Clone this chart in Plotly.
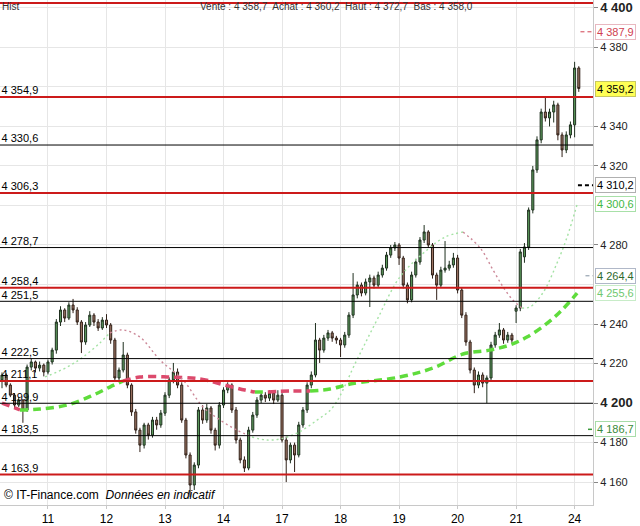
import plotly.graph_objects as go

# jours (debut de seance en indice de bougie)
days = ['11', '12', '13', '14', '17', '18', '19', '20', '21', '24']
day_start = [11, 25, 39, 53, 67, 81, 95, 109, 123, 137]

open_ = [4211.7, 4214.2, 4209.1, 4204.0, 4199.0, 4201.5, 4196.5, 4218.2, 4220.8, 4217.7,
         4219.2, 4215.7, 4220.8, 4226.8, 4241.0, 4247.1, 4243.0, 4249.6, 4247.1, 4241.0,
         4230.9, 4239.5, 4244.5, 4241.0, 4238.0, 4242.0, 4239.5, 4231.9, 4212.7, 4216.7,
         4224.3, 4209.1, 4195.5, 4186.3, 4178.7, 4188.9, 4183.8, 4191.4, 4188.9, 4194.9,
         4204.0, 4211.7, 4215.7, 4209.1, 4191.4, 4173.7, 4158.5, 4168.6, 4196.5, 4191.4,
         4197.5, 4186.3, 4178.7, 4199.0, 4206.6, 4209.1, 4196.5, 4181.3, 4171.2, 4167.1,
         4186.3, 4193.9, 4201.5, 4204.0, 4202.5, 4205.0, 4201.5, 4204.0, 4181.3, 4171.2,
         4178.7, 4173.7, 4188.9, 4196.5, 4209.1, 4214.2, 4231.9, 4226.8, 4232.9, 4235.5,
         4232.9, 4231.9, 4229.4, 4234.4, 4244.5, 4254.7, 4259.7, 4255.7, 4261.3, 4263.3,
         4259.7, 4264.8, 4268.3, 4274.9, 4278.5, 4280.0, 4273.4, 4259.7, 4252.2, 4264.8,
         4271.4, 4282.5, 4286.6, 4280.0, 4264.8, 4259.7, 4267.3, 4268.3, 4269.9, 4273.4,
         4257.2, 4244.5, 4230.9, 4216.7, 4209.1, 4214.2, 4210.1, 4212.7, 4229.4, 4234.4,
         4237.0, 4231.9, 4234.4, 4246.5, 4248.1, 4274.0, 4279.0, 4297.7, 4318.0, 4333.2,
         4347.3, 4344.3, 4347.3, 4350.9, 4335.7, 4328.1, 4335.7, 4340.8, 4369.6]
high = [4215.5, 4215.0, 4210.0, 4205.0, 4203.0, 4202.0, 4219.5, 4222.5, 4221.5, 4221.0,
        4220.0, 4222.0, 4228.0, 4242.5, 4249.0, 4248.0, 4251.0, 4252.7, 4248.5, 4242.0,
        4241.0, 4246.5, 4245.5, 4242.5, 4243.5, 4245.0, 4240.5, 4233.0, 4218.0, 4230.9,
        4225.5, 4210.0, 4197.0, 4187.5, 4190.0, 4190.0, 4193.0, 4193.0, 4196.5, 4205.5,
        4213.0, 4220.3, 4217.5, 4210.5, 4192.5, 4175.0, 4170.0, 4198.0, 4199.0, 4199.5,
        4198.5, 4187.5, 4200.5, 4208.0, 4210.5, 4210.0, 4198.0, 4182.5, 4173.0, 4188.0,
        4195.5, 4203.0, 4206.0, 4205.5, 4206.5, 4206.0, 4206.5, 4205.0, 4183.0, 4180.0,
        4180.0, 4190.5, 4198.0, 4210.5, 4216.0, 4240.5, 4233.0, 4234.5, 4237.0, 4236.5,
        4234.0, 4233.0, 4236.0, 4246.0, 4265.8, 4261.5, 4261.0, 4263.0, 4265.0, 4264.5,
        4266.5, 4270.0, 4276.5, 4280.0, 4281.5, 4281.0, 4274.5, 4261.0, 4266.5, 4273.0,
        4284.0, 4290.1, 4287.5, 4281.0, 4266.0, 4269.0, 4282.0, 4272.0, 4276.0, 4275.0,
        4258.5, 4246.0, 4232.0, 4218.0, 4216.0, 4215.5, 4214.0, 4231.0, 4236.0, 4240.5,
        4238.0, 4236.0, 4235.5, 4249.5, 4278.0, 4281.0, 4299.0, 4320.0, 4335.0, 4349.0,
        4354.9, 4349.0, 4353.0, 4352.0, 4337.0, 4337.5, 4342.5, 4372.7, 4370.5]
low = [4207.5, 4208.0, 4203.0, 4197.5, 4198.0, 4190.0, 4195.5, 4216.5, 4215.5, 4216.0,
       4213.5, 4214.5, 4219.5, 4225.0, 4239.0, 4241.0, 4242.0, 4245.5, 4239.5, 4225.3,
       4229.5, 4238.5, 4239.0, 4236.5, 4237.0, 4238.0, 4230.0, 4211.0, 4211.0, 4215.5,
       4207.5, 4193.5, 4184.5, 4175.2, 4177.0, 4181.5, 4182.5, 4186.5, 4187.5, 4193.5,
       4202.5, 4210.0, 4207.5, 4190.0, 4172.0, 4152.4, 4156.0, 4167.0, 4189.5, 4190.0,
       4184.5, 4176.0, 4177.0, 4197.5, 4205.0, 4195.0, 4179.5, 4169.5, 4165.1, 4166.0,
       4185.0, 4192.5, 4200.0, 4200.5, 4201.0, 4199.5, 4200.5, 4180.0, 4160.0, 4169.5,
       4165.1, 4172.5, 4187.5, 4195.0, 4207.5, 4213.0, 4220.3, 4225.5, 4231.5, 4231.0,
       4230.0, 4223.3, 4228.0, 4233.0, 4243.0, 4253.0, 4254.0, 4254.5, 4248.6, 4258.0,
       4258.5, 4263.5, 4267.0, 4273.5, 4277.0, 4269.9, 4258.0, 4250.5, 4251.0, 4263.5,
       4270.0, 4281.0, 4278.5, 4263.0, 4252.2, 4258.5, 4266.0, 4267.0, 4268.5, 4255.5,
       4243.0, 4229.0, 4215.0, 4205.0, 4207.5, 4208.0, 4200.0, 4211.5, 4228.0, 4233.0,
       4230.0, 4230.5, 4230.5, 4240.5, 4246.5, 4271.0, 4277.5, 4296.0, 4316.5, 4331.5,
       4342.5, 4340.0, 4342.0, 4333.0, 4324.5, 4326.5, 4334.0, 4334.5, 4357.5]
close = [4214.2, 4209.1, 4204.0, 4199.0, 4201.5, 4196.5, 4218.2, 4220.8, 4217.7, 4219.2,
         4215.7, 4220.8, 4226.8, 4241.0, 4247.1, 4243.0, 4249.6, 4247.1, 4241.0, 4230.9,
         4239.5, 4244.5, 4241.0, 4238.0, 4242.0, 4239.5, 4231.9, 4212.7, 4216.7, 4224.3,
         4209.1, 4195.5, 4186.3, 4178.7, 4188.9, 4183.8, 4191.4, 4188.9, 4194.9, 4204.0,
         4211.7, 4215.7, 4209.1, 4191.4, 4173.7, 4158.5, 4168.6, 4196.5, 4191.4, 4197.5,
         4186.3, 4178.7, 4199.0, 4206.6, 4209.1, 4196.5, 4181.3, 4171.2, 4167.1, 4186.3,
         4193.9, 4201.5, 4204.0, 4202.5, 4205.0, 4201.5, 4204.0, 4181.3, 4171.2, 4178.7,
         4173.7, 4188.9, 4196.5, 4209.1, 4214.2, 4231.9, 4226.8, 4232.9, 4235.5, 4232.9,
         4231.9, 4229.4, 4234.4, 4244.5, 4254.7, 4259.7, 4255.7, 4261.3, 4263.3, 4259.7,
         4264.8, 4268.3, 4274.9, 4278.5, 4280.0, 4273.4, 4259.7, 4252.2, 4264.8, 4271.4,
         4282.5, 4286.6, 4280.0, 4264.8, 4259.7, 4267.3, 4268.3, 4269.9, 4273.4, 4257.2,
         4244.5, 4230.9, 4216.7, 4209.1, 4214.2, 4210.1, 4212.7, 4229.4, 4234.4, 4237.0,
         4231.9, 4234.4, 4231.9, 4248.1, 4276.5, 4279.0, 4297.7, 4318.0, 4333.2, 4347.3,
         4344.3, 4347.3, 4350.9, 4335.7, 4328.1, 4335.7, 4340.8, 4369.6, 4359.2]

# niveaux horizontaux
red_levels = [4402.5, 4354.9, 4306.3, 4258.4, 4211.1, 4163.9]
black_levels = [4330.6, 4278.7, 4251.5, 4222.5, 4199.9, 4183.5]

# moyenne mobile courte
fast_x = [10.3, 15.6, 19.4, 23.4, 25.8, 28.9, 33.0, 37.8, 43.3, 48.1, 52.2, 56.2,
          59.8, 63.4, 66.5, 70.6, 75.4, 79.2, 84.9, 89.7, 95.2, 101.7, 106.0, 110.3,
          114.4, 117.5, 119.9, 122.2, 124.4, 126.3, 129.4, 132.8, 135.2, 137.6]
fast_y = [4213.2, 4218.2, 4223.3, 4230.4, 4235.5, 4237.0, 4233.4, 4221.8, 4211.7, 4198.0,
          4191.4, 4186.3, 4182.8, 4181.3, 4181.8, 4184.8, 4191.4, 4198.0, 4221.8, 4242.0,
          4263.8, 4277.5, 4284.0, 4286.6, 4278.5, 4267.3, 4258.7, 4252.2, 4248.1, 4248.6,
          4255.7, 4270.9, 4284.0, 4300.6]
fast_breaks = [0, 4, 12, 23, 28, 33]
fast_trend = ['up', 'down', 'up', 'down', 'up']

# moyenne mobile longue
slow_x = [0, 4.3, 9.1, 15.6, 21.8, 25.8, 28.9, 33.0, 39.5, 47.4, 53.3, 58.1, 60.5,
          63.6, 68.9, 73.7, 78.5, 83.3, 95.2, 103.1, 110.3, 116.7, 121.5, 125.6,
          129.9, 133.5, 137.6]
slow_y = [4200.0, 4196.5, 4197.0, 4199.0, 4204.0, 4208.1, 4211.1, 4213.2, 4213.2, 4212.2,
          4209.1, 4206.6, 4205.6, 4205.6, 4206.1, 4206.1, 4207.1, 4209.6, 4213.2, 4217.7,
          4224.8, 4226.8, 4229.4, 4233.4, 4239.5, 4246.1, 4255.6]
slow_breaks = [0, 1, 6, 12, 13, 15, 26]
slow_trend = ['down', 'up', 'down', 'up', 'down', 'up']

# etiquettes de droite
right_vals = [4387.9, 4359.2, 4310.2, 4300.6, 4264.4, 4255.6, 4186.7]
right_font = ['#d04050', '#000000', '#000000', '#44b844', '#2f6a2f', '#70c870', '#3a8a3a']
right_bg = ['#ffffff', '#ffff55', '#ffffff', '#ffffff', '#ffffff', '#ffffff', '#ffffff']
right_border = ['#e8b8c0', '#c8c860', '#b0b0b0', '#a8e0a8', '#b0b8c8', '#c8ecc8', '#a8dca8']
mark_vals = [4387.9, 4310.2, 4264.4, 4186.7]
mark_col = ['#d04050', '#000000', '#8090a0', '#3a9a3a']
mark_from = [138.4, 137.8, 139.6, 140.2]
mark_width = [1, 2, 1, 1.5]

y_ticks = [4160, 4180, 4200, 4220, 4240, 4280, 4320, 4340, 4380, 4400]


def fr(v):
    s = f'{v:,.1f}'.replace(',', ' ').replace('.', ',')
    return s


def fr_int(v):
    return f'{v:,}'.replace(',', ' ')


x = list(range(len(close)))

fig = go.Figure()

# libelles des niveaux (dessines sous les bougies)
levels = red_levels[1:] + black_levels
fig.add_trace(go.Scatter(x=[-0.1] * len(levels), y=levels, mode='text',
                         text=[fr(v) for v in levels], textposition='top right',
                         textfont=dict(size=11, color='#000000'),
                         hoverinfo='skip', showlegend=False, cliponaxis=False))

for i in range(len(slow_trend)):
    a, b = slow_breaks[i], slow_breaks[i + 1]
    fig.add_trace(go.Scatter(x=slow_x[a:b + 1], y=slow_y[a:b + 1], mode='lines',
                             line=dict(color='#5fdc3c' if slow_trend[i] == 'up' else '#dc4a6c',
                                       width=3.5, dash='8px,5px', shape='spline'),
                             hoverinfo='skip', showlegend=False))

for i in range(len(fast_trend)):
    a, b = fast_breaks[i], fast_breaks[i + 1]
    fig.add_trace(go.Scatter(x=fast_x[a:b + 1], y=fast_y[a:b + 1], mode='lines',
                             line=dict(color='#a4e2a4' if fast_trend[i] == 'up' else '#cc8898',
                                       width=1.4, dash='2px,3px', shape='spline'),
                             hoverinfo='skip', showlegend=False))

fig.add_trace(go.Candlestick(
    x=x, open=open_, high=high, low=low, close=close,
    increasing=dict(line=dict(color='#1f301f', width=1), fillcolor='#5c9a5c'),
    decreasing=dict(line=dict(color='#302018', width=1), fillcolor='#9c7463'),
    whiskerwidth=0, hoverinfo='skip', showlegend=False))

for v in black_levels:
    fig.add_shape(type='line', xref='paper', x0=0, x1=1, y0=v, y1=v,
                  line=dict(color='#000000', width=1))
for v in red_levels:
    fig.add_shape(type='line', xref='paper', x0=0, x1=1, y0=v, y1=v,
                  line=dict(color='#cc1a1a', width=2))

for v, c, x0, w in zip(mark_vals, mark_col, mark_from, mark_width):
    fig.add_shape(type='line', x0=x0, x1=141.4, y0=v, y1=v,
                  line=dict(color=c, width=w, dash='4px,3px'))

for v, fc, bg, bc in zip(right_vals, right_font, right_bg, right_border):
    fig.add_annotation(xref='paper', x=1, xanchor='left', xshift=2, y=v, yref='y',
                       text=fr(v), showarrow=False, font=dict(size=11, color=fc),
                       bgcolor=bg, bordercolor=bc, borderwidth=1, borderpad=1)

fig.add_annotation(xref='paper', yref='paper', x=0, y=0, xanchor='left', yanchor='bottom',
                   xshift=2, yshift=1, showarrow=False,
                   text='© IT-Finance.com  <i>Données en indicatif</i>',
                   font=dict(size=12, color='#000000'))
fig.add_annotation(xref='paper', yref='paper', x=0.334, y=1, xanchor='left', yanchor='top',
                   yshift=1, showarrow=False,
                   text='Vente : 4 358,7  Achat : 4 360,2  Haut : 4 372,7  Bas : 4 358,0',
                   font=dict(size=10, color='#333333'))
fig.add_annotation(xref='paper', yref='paper', x=0, y=1, xanchor='left', yanchor='top',
                   yshift=1, showarrow=False, text='Hist',
                   font=dict(size=10, color='#333333'))

tick_text = []
for t in y_ticks:
    if t in (4200, 4400):
        tick_text.append('<b><span style="font-size:13px">' + fr_int(t) + '</span></b>')
    else:
        tick_text.append(fr_int(t))

fig.update_layout(
    width=640, height=526,
    margin=dict(l=0, r=47, t=0, b=21),
    paper_bgcolor='#ffffff', plot_bgcolor='#ffffff',
    font=dict(family='Liberation Sans, Arial, sans-serif', size=11, color='#333333'),
    showlegend=False,
    xaxis=dict(range=[-0.48, 141.4], tickvals=day_start, ticktext=days,
               showgrid=True, gridcolor='#e6e6e6', gridwidth=1,
               showline=True, linecolor='#c8c8c8', mirror=True,
               ticks='outside', ticklen=3, tickcolor='#c8c8c8',
               tickfont=dict(size=12, color='#000000'),
               rangeslider=dict(visible=False), zeroline=False),
    yaxis=dict(range=[4148.4, 4404], side='right', tickvals=y_ticks, ticktext=tick_text,
               showgrid=True, gridcolor='#e6e6e6',
               minor=dict(tick0=4160, dtick=20, showgrid=True, gridcolor='#e6e6e6'),
               showline=True, linecolor='#c8c8c8', mirror=True,
               ticks='outside', ticklen=4, tickcolor='#888888',
               ticklabeloverflow='allow',
               tickfont=dict(size=11, color='#222222'), zeroline=False),
)

# la page ne doit pas decaler la figure
fig.write_html('out.html', config={'displayModeBar': False},
               post_script="document.body.style.margin='0';")
